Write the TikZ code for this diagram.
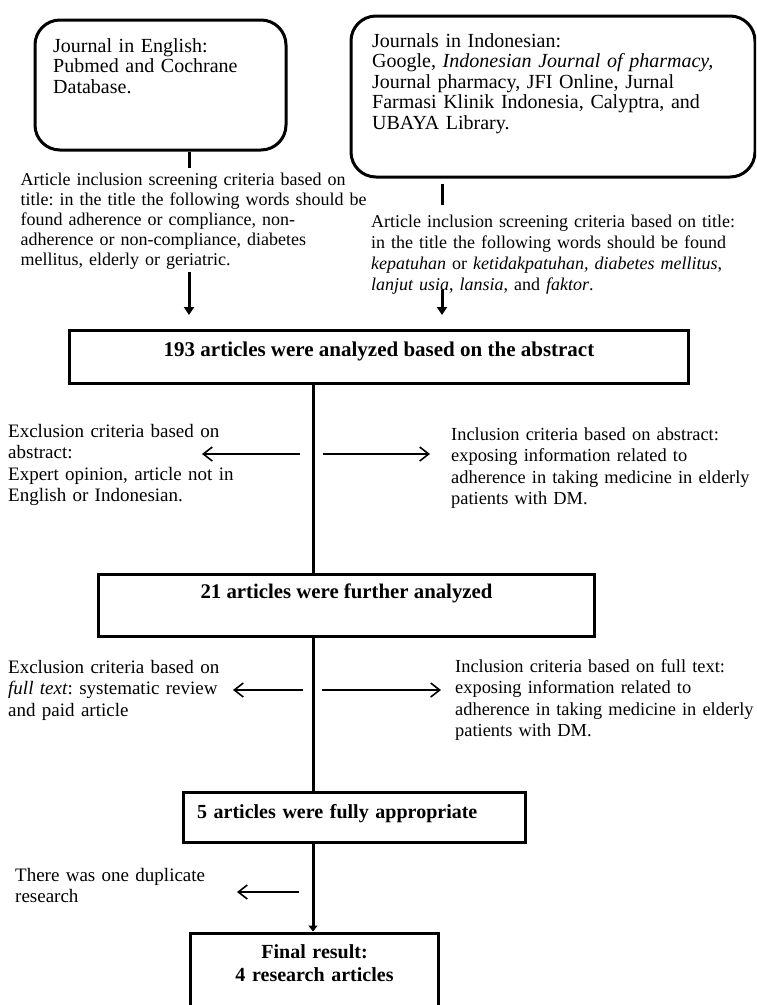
\documentclass[tikz,border=0pt]{standalone}
\usepackage{fontspec}
\setmainfont{Liberation Serif}
\usetikzlibrary{arrows.meta}
\frenchspacing

\newcommand\srcfont{\fontsize{20}{20.5}\selectfont}
\newcommand\critfont{\fontsize{18}{20}\selectfont}
\newcommand\midfont{\fontsize{19}{21.5}\selectfont}
\newcommand\inclfont{\fontsize{18.4}{21.5}\selectfont}

\tikzset{
  srcbox/.style={draw, line width=3pt, rounded corners=25pt, anchor=north west, inner sep=0pt},
  crit/.style={anchor=base west, inner sep=0pt, align=left, text width=#1},
  stage/.style={draw, line width=3pt, inner sep=0pt, font=\bfseries\fontsize{20}{23}\selectfont},
  stemline/.style={line width=3pt},
  droparrow/.style={line width=3pt, -{Triangle[width=10pt,length=8pt]}},
  sidearrow/.style={line width=1.6pt, -{Straight Barb[length=9pt,width=14pt]}},
}

\begin{document}
\begin{tikzpicture}[x=1pt, y=-1pt]
\useasboundingbox (0,0) rectangle (756,1005);
\clip (0,0) rectangle (756,1005);

% sources
\node[srcbox, minimum width=251, minimum height=130] (eng) at (33.5,18.5) {};
\node[crit=230, font=\srcfont] (engtxt) at (53,52)
  {Journal in English:\\ Pubmed and Cochrane\\ Database.};
\node[srcbox, minimum width=404, minimum height=161] (indo) at (349.5,14.5) {};
\node[crit=370, font=\srcfont] (indotxt) at (372,47)
  {Journals in Indonesian:\\
   Google, \textit{Indonesian Journal of pharmacy,}\\
   Journal pharmacy, JFI Online, Jurnal\\
   Farmasi Klinik Indonesia, Calyptra, and\\
   UBAYA Library.};

% title screening
\node[crit=360, font=\critfont] (engcrit) at (20.5,185)
  {Article inclusion screening criteria based on\\
   title: in the title the following words should be\\
   found adherence or compliance, non-\\
   adherence or non-compliance, diabetes\\
   mellitus, elderly or geriatric.};
\node[crit=380, font=\fontsize{18}{21}\selectfont] (indocrit) at (371,227)
  {Article inclusion screening criteria based on title:\\
   in the title the following words should be found\\
   \textit{kepatuhan} or \textit{ketidakpatuhan,} \textit{diabetes mellitus},\\
   \textit{lanjut usia}, \textit{lansia}, and \textit{faktor}.};

% stages
\node[stage, font=\bfseries\fontsize{21}{23}\selectfont, minimum width=619, minimum height=53,
  text height=14, text depth=16] (n193) at (379,357)
  {193 articles were analyzed based on the abstract};
\node[stage, font=\bfseries\fontsize{20.8}{23}\selectfont, minimum width=496, minimum height=62,
  text height=14, text depth=29] (n21) at (346.5,605.5)
  {21 articles were further analyzed};
\node[stage, minimum width=342, minimum height=50, text height=14, text depth=13, inner xsep=13.5,
  text width=315, align=left] (n5) at (354.5,817.5)
  {5 articles were fully appropriate};
\node[stage, anchor=north, minimum width=248, inner xsep=14, inner ysep=11.5, text width=220,
  align=center, text height=14, text depth=62] (final) at (314.5,931.5)
  {Final result:\\ 4 research articles};

% side notes
\node[crit=260, font=\midfont] (excl1) at (8,437)
  {Exclusion criteria based on\\ abstract:\\ Expert opinion, article not in\\ English or Indonesian.};
\node[crit=303, font=\inclfont] (incl1) at (451,440)
  {Inclusion criteria based on abstract:\\ exposing information related to\\
   adherence in taking medicine in elderly\\ patients with DM.};
\node[crit=260, font=\midfont] (excl2) at (8,673)
  {Exclusion criteria based on\\ \textit{full text}: systematic review\\ and paid article};
\node[crit=310, font=\inclfont] (incl2) at (455,672)
  {Inclusion criteria based on full text:\\ exposing information related to\\
   adherence in taking medicine in elderly\\ patients with DM.};
\node[crit=260, font=\midfont] (dup) at (15,881)
  {There was one duplicate\\ research};

% connectors
\coordinate (engdrop) at (189,0);
\coordinate (indodrop) at (442,0);
\coordinate (spine) at (313,0);
\coordinate (a1) at (313,454);
\coordinate (a2) at (313,690);
\coordinate (a3) at (313,892);

\draw[stemline] (eng.south -| engdrop) -- ++(0,16);
\draw[droparrow] ([yshift=-3pt]engcrit.south -| engdrop) -- ([yshift=14pt]n193.north -| engdrop);
\draw[stemline] ([yshift=-5pt]indo.south -| indodrop) -- ++(0,21);
\draw[droparrow] ([yshift=4pt]indocrit.south -| indodrop) -- ([yshift=14pt]n193.north -| indodrop);

\draw[stemline] (n193.south -| spine) -- (n21.north -| spine);
\draw[stemline] (n21.south -| spine) -- (n5.north -| spine);
\draw[line width=3pt, -{Triangle[width=9pt,length=6pt]}] (n5.south -| spine) -- (final.north -| spine);

\draw[sidearrow] ([xshift=-13pt]a1) -- ++(-98,0);
\draw[sidearrow] ([xshift=10pt]a1) -- ++(107,0);
\draw[sidearrow] ([xshift=-10pt]a2) -- ++(-70,0);
\draw[sidearrow] ([xshift=9pt]a2) -- ++(119,0);
\draw[sidearrow] ([xshift=-14pt]a3) -- ++(-62,0);
\end{tikzpicture}
\end{document}
